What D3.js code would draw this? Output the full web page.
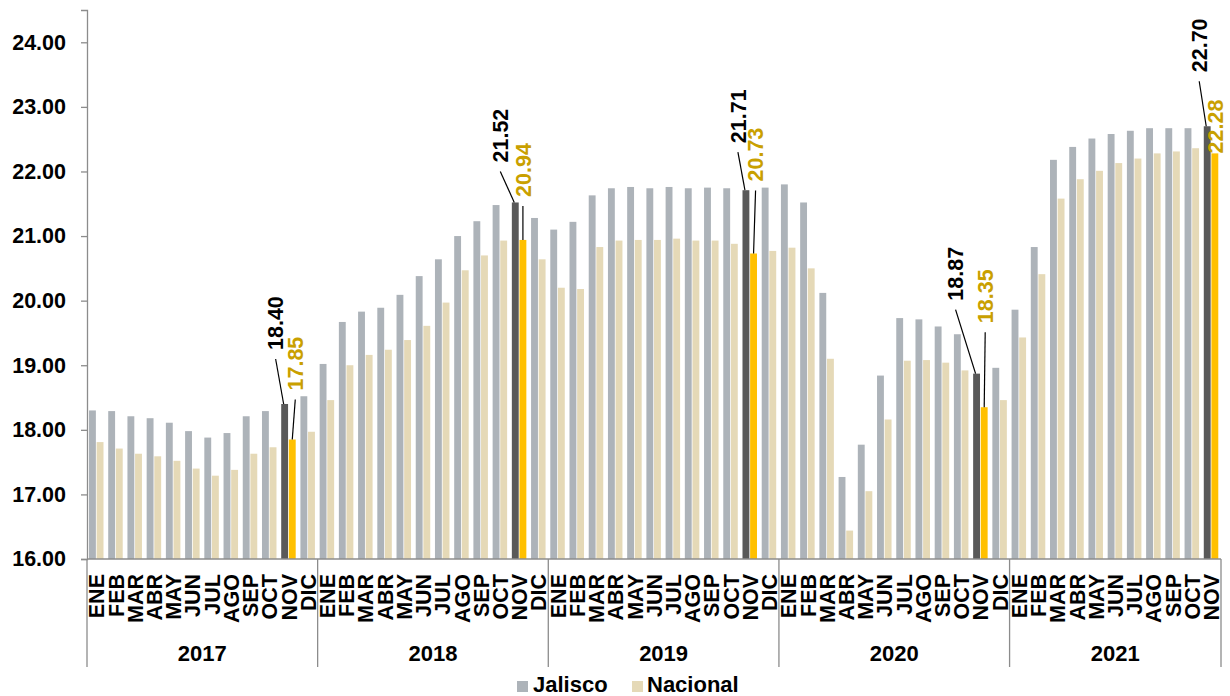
<!DOCTYPE html>
<html>
<head>
<meta charset="utf-8">
<script src="https://cdn.jsdelivr.net/npm/d3@7"></script>
<style>
  body { margin: 0; background: #fff; }
  svg { display: block; font-family: "Liberation Sans", Arial, sans-serif; font-weight: 700; }
</style>
</head>
<body>
<svg id="chart" width="1230" height="696"></svg>
<script>
const years = ["2017", "2018", "2019", "2020", "2021"];
const monthsFull = ["ENE", "FEB", "MAR", "ABR", "MAY", "JUN", "JUL", "AGO", "SEP", "OCT", "NOV", "DIC"];
const monthsPerYear = [12, 12, 12, 12, 11];

const jalisco = [
  18.30, 18.29, 18.21, 18.18, 18.11, 17.98, 17.88, 17.95, 18.21, 18.29, 18.40, 18.52,
  19.02, 19.67, 19.83, 19.89, 20.09, 20.38, 20.64, 21.00, 21.23, 21.48, 21.52, 21.28,
  21.10, 21.22, 21.63, 21.74, 21.76, 21.74, 21.76, 21.74, 21.75, 21.74, 21.71, 21.75,
  21.80, 21.52, 20.12, 17.27, 17.77, 18.84, 19.73, 19.71, 19.60, 19.48, 18.87, 18.96,
  19.86, 20.83, 22.18, 22.38, 22.51, 22.58, 22.63, 22.67, 22.67, 22.67, 22.70
];
const nacional = [
  17.81, 17.71, 17.63, 17.59, 17.52, 17.40, 17.29, 17.38, 17.63, 17.73, 17.85, 17.97,
  18.46, 19.00, 19.16, 19.24, 19.39, 19.61, 19.97, 20.47, 20.70, 20.93, 20.94, 20.64,
  20.20, 20.18, 20.83, 20.93, 20.94, 20.94, 20.96, 20.93, 20.93, 20.88, 20.73, 20.77,
  20.82, 20.50, 19.10, 16.44, 17.05, 18.16, 19.07, 19.08, 19.04, 18.92, 18.35, 18.46,
  19.43, 20.41, 21.58, 21.88, 22.01, 22.13, 22.20, 22.28, 22.31, 22.36, 22.28
];
const yTicks = [16, 17, 18, 19, 20, 21, 22, 23, 24];
const series = ["Jalisco", "Nacional"];

/* flat list of categories: one per month */
const cats = [];
years.forEach((yr, yi) => {
  for (let m = 0; m < monthsPerYear[yi]; m++) {
    cats.push({ year: yr, month: monthsFull[m] });
  }
});
const rows = cats.map((c, i) => ({ ...c, i, Jalisco: jalisco[i], Nacional: nacional[i], hl: c.month === "NOV" }));

const colors = { Jalisco: "#adb3b9", Nacional: "#e5d9b7" };
const hlColors = { Jalisco: "#595959", Nacional: "#ffc000" };
const labelColors = { Jalisco: "#000000", Nacional: "#c9a000" };

const svg = d3.select("#chart");
const left = 87, right = 1221, bottom = 559;

const x = d3.scaleBand().domain(d3.range(cats.length)).range([left, right]).padding(0);
const x1 = d3.scaleBand().domain(series).range([2, 16.5]).paddingInner(0.1);
const y = d3.scaleLinear().domain([16, 24.5]).range([bottom, 10]);

/* bars */
const groups = svg.append("g")
  .selectAll("g.cat")
  .data(rows)
  .enter()
  .append("g")
  .attr("class", "cat")
  .attr("transform", d => `translate(${x(d.i)},0)`);

groups.selectAll("rect")
  .data(d => series.map(s => ({ key: s, value: d[s], hl: d.hl })))
  .enter()
  .append("rect")
  .attr("x", d => x1(d.key))
  .attr("width", x1.bandwidth())
  .attr("y", d => y(d.value))
  .attr("height", d => bottom - y(d.value))
  .attr("fill", d => d.hl ? hlColors[d.key] : colors[d.key]);

/* y axis */
const yAxis = svg.append("g")
  .attr("transform", `translate(${left},0)`)
  .call(d3.axisLeft(y).tickValues(yTicks).tickFormat(d3.format(".2f")).tickSize(6).tickPadding(15));
yAxis.select(".domain").attr("stroke", "#8c8c8c").attr("stroke-width", 1.3);
yAxis.selectAll(".tick line").attr("stroke", "#8c8c8c").attr("stroke-width", 1.3);
yAxis.selectAll(".tick text")
  .attr("fill", "#000")
  .style("font-size", "21.5px")
  .style("font-weight", "700")
  .style("font-family", "'Liberation Sans', Arial, sans-serif");

/* base line */
svg.append("line")
  .attr("x1", left).attr("x2", right)
  .attr("y1", bottom).attr("y2", bottom)
  .attr("stroke", "#8c8c8c").attr("stroke-width", 1.3);

/* month labels */
svg.append("g")
  .selectAll("text")
  .data(rows)
  .enter()
  .append("text")
  .attr("transform", d => `translate(${x(d.i) + x.bandwidth() / 2},574) rotate(-90)`)
  .attr("text-anchor", "end")
  .attr("dy", "0.36em")
  .style("font-size", "21.5px")
  .text(d => d.month);

/* year separators and labels */
const yearStarts = [];
let acc = 0;
monthsPerYear.forEach(n => { yearStarts.push(acc); acc += n; });
const edges = yearStarts.map(i => x(i)).concat([right]);

svg.append("g")
  .selectAll("line")
  .data(edges)
  .enter()
  .append("line")
  .attr("x1", d => d).attr("x2", d => d)
  .attr("y1", bottom).attr("y2", 667)
  .attr("stroke", "#8c8c8c").attr("stroke-width", 1.3);

svg.append("g")
  .selectAll("text")
  .data(years)
  .enter()
  .append("text")
  .attr("x", (d, i) => (edges[i] + edges[i + 1]) / 2)
  .attr("y", 661)
  .attr("text-anchor", "middle")
  .style("font-size", "22px")
  .text(d => d);

/* callouts on NOV bars: text offset from bar (dx, gap above bar top) */
const callouts = [
  { Jalisco: { dx: -9, gap: 54 }, Nacional: { dx: 3, gap: 49 } },
  { Jalisco: { dx: -15, gap: 40 }, Nacional: { dx: 0, gap: 43 } },
  { Jalisco: { dx: -8, gap: 47 }, Nacional: { dx: 2, gap: 72 } },
  { Jalisco: { dx: -21, gap: 73 }, Nacional: { dx: 1, gap: 84 } },
  { Jalisco: { dx: -8, gap: 54 }, Nacional: { dx: 0, gap: 0 } }
];

const hlRows = rows.filter(d => d.hl);
const callG = svg.append("g");
hlRows.forEach((d, k) => {
  series.forEach(s => {
    const c = callouts[k][s];
    const barX = x(d.i) + x1(s) + x1.bandwidth() / 2;
    const barTop = y(d[s]);
    const tx = barX + c.dx;
    const ty = barTop - c.gap;
    if (c.gap > 20) {
      callG.append("line")
        .attr("x1", tx).attr("y1", ty + 9)
        .attr("x2", s === "Jalisco" ? barX - 1 : barX).attr("y2", barTop)
        .attr("stroke", "#000").attr("stroke-width", 1.2);
    }
    callG.append("text")
      .attr("transform", `translate(${tx},${ty}) rotate(-90)`)
      .attr("text-anchor", "start")
      .attr("dy", "0.36em")
      .attr("fill", labelColors[s])
      .style("font-size", "21.5px")
      .text(d3.format(".2f")(d[s]));
  });
});

/* legend */
const legend = svg.append("g");
const legendItems = [
  { key: "Jalisco", sx: 517, tx: 533 },
  { key: "Nacional", sx: 632, tx: 647 }
];
legendItems.forEach(it => {
  legend.append("rect")
    .attr("x", it.sx).attr("y", 681)
    .attr("width", 11).attr("height", 11)
    .attr("fill", colors[it.key]);
  legend.append("text")
    .attr("x", it.tx).attr("y", 692)
    .style("font-size", "22px")
    .text(it.key);
});
</script>
</body>
</html>
